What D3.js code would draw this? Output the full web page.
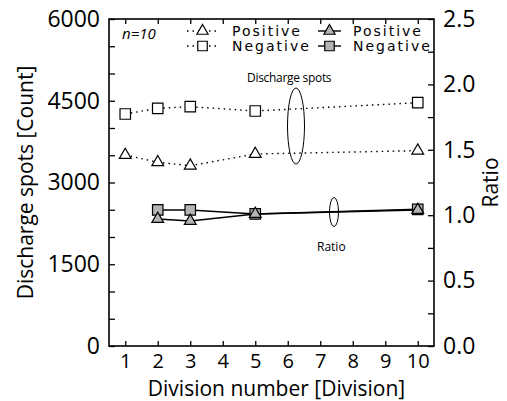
<!DOCTYPE html>
<html>
<head>
<meta charset="utf-8">
<script src="https://cdn.jsdelivr.net/npm/d3@7"></script>
<style>
  body { margin: 0; background: #fff; }
  svg { display: block; }
</style>
</head>
<body>
<svg id="chart" width="507" height="401"></svg>
<script>
// division numbers on the x axis
const divisions = [1, 2, 3, 5, 10]
const ratioDivisions = [2, 3, 5, 10]

// discharge spots [count], dotted lines, left axis
const spotsPositive = [3505, 3371, 3309, 3523, 3584]
const spotsNegative = [4257, 4361, 4391, 4312, 4464]

// ratio, solid lines, right axis
const ratioPositive = [0.971, 0.956, 1.01, 1.04]
const ratioNegative = [1.04, 1.04, 1.01, 1.045]

const xTicks = [1, 2, 3, 4, 5, 6, 7, 8, 9, 10]
const leftTicks = [0, 1500, 3000, 4500, 6000]
const rightTicks = [0, 0.5, 1.0, 1.5, 2.0, 2.5]

const box = { left: 109, right: 434, top: 19, bottom: 346 }
const svg = d3.select('#chart')

let x = d3.scaleLinear().domain([0.5, 10.5]).range([box.left, box.right])
let yL = d3.scaleLinear().domain([0, 6000]).range([box.bottom, box.top])
let yR = d3.scaleLinear().domain([0, 2.5]).range([box.bottom, box.top])

const tickFont = '"Open Sans", sans-serif'

// axes, all ticks point inward
function styleAxis (g) {
  g.select('.domain').remove()
  g.selectAll('line').attr('stroke', '#000').attr('stroke-width', 1.3)
  g.selectAll('text').attr('font-family', tickFont).attr('fill', '#000')
}

svg.append('g')
  .attr('transform', 'translate(0,' + box.bottom + ')')
  .call(d3.axisBottom(x).tickValues(xTicks).tickFormat(d3.format('d'))
    .tickSizeInner(-5).tickSizeOuter(0).tickPadding(8))
  .call(styleAxis)
  .selectAll('text').attr('font-size', 20)

svg.append('g')
  .attr('transform', 'translate(0,' + box.top + ')')
  .call(d3.axisTop(x).tickValues(xTicks).tickFormat('')
    .tickSizeInner(-5).tickSizeOuter(0))
  .call(styleAxis)

svg.append('g')
  .attr('transform', 'translate(' + box.left + ',0)')
  .call(d3.axisLeft(yL).tickValues(d3.range(0, 6001, 500)).tickFormat('')
    .tickSizeInner(-6).tickSizeOuter(0))
  .call(styleAxis)

svg.append('g')
  .attr('transform', 'translate(' + box.left + ',0)')
  .call(d3.axisLeft(yL).tickValues(leftTicks).tickFormat(d3.format('d'))
    .tickSize(0).tickPadding(9))
  .call(styleAxis)
  .selectAll('text').attr('font-size', 23)

svg.append('g')
  .attr('transform', 'translate(' + box.right + ',0)')
  .call(d3.axisRight(yR).tickValues(d3.range(0, 2.51, 0.25)).tickFormat('')
    .tickSizeInner(-6).tickSizeOuter(0))
  .call(styleAxis)

svg.append('g')
  .attr('transform', 'translate(' + box.right + ',0)')
  .call(d3.axisRight(yR).tickValues(rightTicks).tickFormat(d3.format('.1f'))
    .tickSize(0).tickPadding(9))
  .call(styleAxis)
  .selectAll('text').attr('font-size', 23)

svg.append('rect')
  .attr('x', box.left).attr('y', box.top)
  .attr('width', box.right - box.left).attr('height', box.bottom - box.top)
  .attr('fill', 'none').attr('stroke', '#000').attr('stroke-width', 1.6)

// axis titles
svg.append('text')
  .attr('transform', 'translate(33,' + ((box.top + box.bottom) / 2) + ') rotate(-90)')
  .attr('text-anchor', 'middle')
  .attr('font-family', tickFont).attr('font-size', 21)
  .text('Discharge spots [Count]')

svg.append('text')
  .attr('transform', 'translate(498,' + ((box.top + box.bottom) / 2) + ') rotate(-90)')
  .attr('text-anchor', 'middle')
  .attr('font-family', tickFont).attr('font-size', 21)
  .text('Ratio')

svg.append('text')
  .attr('x', (box.left + box.right) / 2 + 5).attr('y', 396)
  .attr('text-anchor', 'middle')
  .attr('font-family', tickFont).attr('font-size', 21)
  .text('Division number [Division]')

// markers
const tri = d3.symbol().type(d3.symbolTriangle).size(60)
const sq = d3.symbol().type(d3.symbolSquare).size(110)

function drawSeries (xs, ys, yScale, shape, fill, dashed) {
  let line = d3.line()
    .x(function (d, i) { return x(xs[i]) })
    .y(function (d) { return yScale(d) })
  svg.append('path')
    .datum(ys)
    .attr('d', line)
    .attr('fill', 'none')
    .attr('stroke', '#000')
    .attr('stroke-width', dashed ? 1.4 : 1.5)
    .attr('stroke-dasharray', dashed ? '1.5,4' : null)
  svg.selectAll(null)
    .data(ys)
    .enter().append('path')
    .attr('d', shape)
    .attr('transform', function (d, i) {
      return 'translate(' + x(xs[i]) + ',' + yScale(d) + ')'
    })
    .attr('fill', fill)
    .attr('stroke', '#000')
    .attr('stroke-width', 1.2)
}

drawSeries(divisions, spotsNegative, yL, sq, '#fff', true)
drawSeries(divisions, spotsPositive, yL, tri, '#fff', true)
drawSeries(ratioDivisions, ratioNegative, yR, sq, '#b4b4b4', false)
drawSeries(ratioDivisions, ratioPositive, yR, tri, '#b4b4b4', false)

// grouping ellipses and notes
svg.append('ellipse')
  .attr('cx', 296).attr('cy', 126).attr('rx', 8.5).attr('ry', 38)
  .attr('fill', 'none').attr('stroke', '#000').attr('stroke-width', 1)
svg.append('ellipse')
  .attr('cx', 334).attr('cy', 212).attr('rx', 4.5).attr('ry', 14.5)
  .attr('fill', 'none').attr('stroke', '#000').attr('stroke-width', 1)

svg.append('text')
  .attr('x', 247).attr('y', 82)
  .attr('font-family', tickFont).attr('font-size', 12).attr('letter-spacing', -0.3)
  .text('Discharge spots')
svg.append('text')
  .attr('x', 317).attr('y', 251)
  .attr('font-family', tickFont).attr('font-size', 12)
  .text('Ratio')

svg.append('text')
  .attr('x', 122).attr('y', 39)
  .attr('font-family', tickFont).attr('font-size', 15).attr('font-style', 'italic')
  .text('n=10')

// legend
const legendFont = '"DejaVu Sans", sans-serif'
const legendRows = [
  { x0: 187, x1: 218, tx: 232, shape: tri, fill: '#fff', dashed: true, label: 'Positive', y: 31 },
  { x0: 187, x1: 218, tx: 232, shape: sq, fill: '#fff', dashed: true, label: 'Negative', y: 46 },
  { x0: 318, x1: 341, tx: 353, shape: tri, fill: '#b4b4b4', dashed: false, label: 'Positive', y: 31 },
  { x0: 318, x1: 341, tx: 353, shape: sq, fill: '#b4b4b4', dashed: false, label: 'Negative', y: 46 }
]
for (let r of legendRows) {
  svg.append('line')
    .attr('x1', r.x0).attr('x2', r.x1).attr('y1', r.y).attr('y2', r.y)
    .attr('stroke', '#000').attr('stroke-width', 1.4)
    .attr('stroke-dasharray', r.dashed ? '1.5,4' : null)
  svg.append('path')
    .attr('d', r.shape.size(r.shape === tri ? 55 : 90))
    .attr('transform', 'translate(' + ((r.x0 + r.x1) / 2) + ',' + r.y + ')')
    .attr('fill', r.fill).attr('stroke', '#000').attr('stroke-width', 1.2)
  svg.append('text')
    .attr('x', r.tx).attr('y', r.y + 5)
    .attr('font-family', legendFont).attr('font-size', 14).attr('letter-spacing', 2)
    .text(r.label)
}
</script>
</body>
</html>
